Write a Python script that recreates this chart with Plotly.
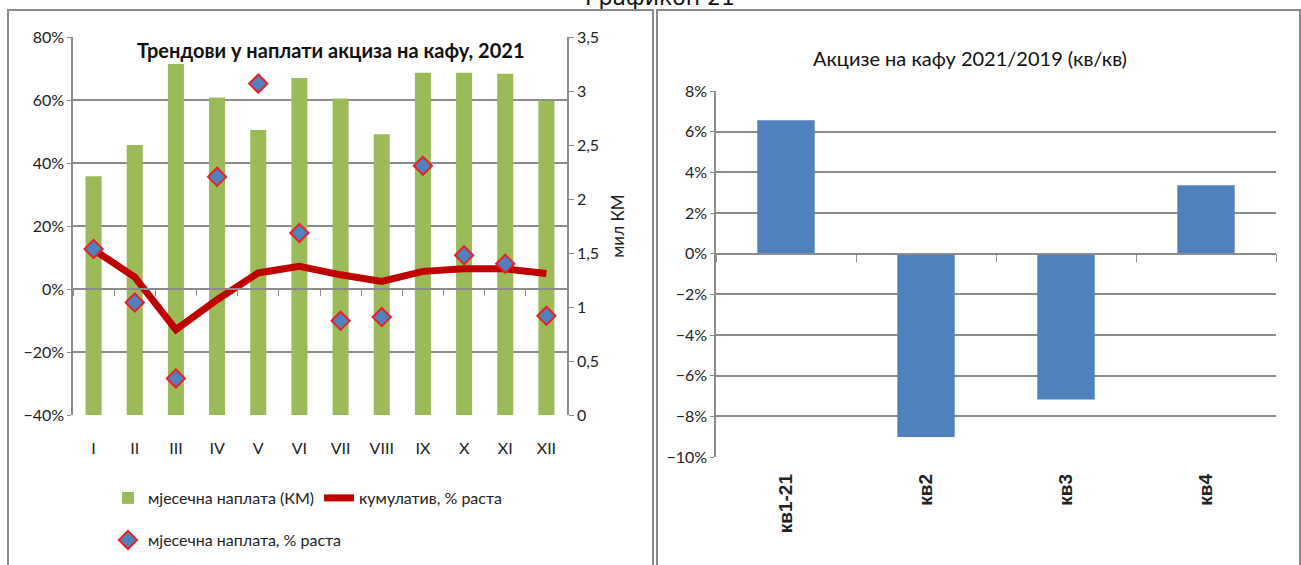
import plotly.graph_objects as go

# ---------------- data ----------------
months = ["I", "II", "III", "IV", "V", "VI", "VII", "VIII", "IX", "X", "XI", "XII"]
monthly_km = [2.21, 2.50, 3.25, 2.94, 2.64, 3.12, 2.93, 2.60, 3.17, 3.17, 3.16, 2.91]
monthly_growth = [0.127, -0.043, -0.284, 0.356, 0.652, 0.178, -0.101, -0.089, 0.391, 0.107, 0.080, -0.085]
cumulative_growth = [0.125, 0.038, -0.129, -0.034, 0.051, 0.072, 0.045, 0.024, 0.056, 0.064, 0.064, 0.049]

quarters = ["кв1-21", "кв2", "кв3", "кв4"]
quarter_growth = [0.0656, -0.0902, -0.0717, 0.0336]

left_title = "Трендови у наплати акциза на кафу, 2021"
right_title = "Акцизе на кафу 2021/2019 (кв/кв)"
page_title = "Графикон 21"

# ---------------- layout geometry ----------------
W, H = 1301, 565
FONT = "Lato, sans-serif"
GRID = "#8c8c8c"

def px_x(v):
    return v / W

def px_y(v):
    return 1 - v / H

L_dom_x = [px_x(73), px_x(567)]
L_dom_y = [px_y(415), px_y(37)]
R_dom_x = [px_x(716), px_x(1276)]
R_dom_y = [px_y(457), px_y(91)]

L_pct_range = [-0.4, 0.8]
R_pct_range = [-0.10, 0.08]

def zero_pos(dom, rng):
    return dom[0] + (0 - rng[0]) / (rng[1] - rng[0]) * (dom[1] - dom[0])

fig = go.Figure()

fig.add_trace(go.Bar(
    x=months, y=monthly_km, name="мјесечна наплата (КМ)",
    marker=dict(color="#9BBB59", line=dict(width=0)), width=0.39,
    xaxis="x", yaxis="y", legend="legend",
))
fig.add_trace(go.Scatter(
    x=months, y=cumulative_growth, name="кумулатив, % раста", mode="lines",
    line=dict(color="#C00000", width=7), xaxis="x", yaxis="y3", legend="legend",
))
fig.add_trace(go.Scatter(
    x=months, y=monthly_growth, name="мјесечна наплата, % раста", mode="markers",
    marker=dict(symbol="diamond", size=14, color="#4F81BD",
                line=dict(color="#E8202A", width=2)),
    xaxis="x", yaxis="y3", legend="legend2",
))
fig.add_trace(go.Bar(
    x=quarters, y=quarter_growth, name="кв/кв", showlegend=False,
    marker=dict(color="#4F81BD", line=dict(width=0)), width=0.41,
    xaxis="x2", yaxis="y4",
))

axis_common = dict(linecolor=GRID, linewidth=1.5, tickcolor=GRID, automargin=False,
                   tickfont=dict(family=FONT, size=16, color="#222"))

fig.update_layout(
    template="none",
    width=W, height=H,
    margin=dict(l=0, r=0, t=0, b=0, autoexpand=False),
    paper_bgcolor="white", plot_bgcolor="white",
    separators=", ",
    showlegend=True,
    xaxis=dict(domain=L_dom_x, type="category", anchor="free",
               position=zero_pos(L_dom_y, L_pct_range),
               range=[-0.5, 11.5], showline=True, ticks="outside",
               tickson="boundaries", ticklen=6, showgrid=False,
               ticklabelstandoff=145, **axis_common),
    yaxis=dict(domain=L_dom_y, anchor="x", side="right", range=[0, 3.5],
               dtick=0.5, showgrid=False, zeroline=False, showline=True,
               ticks="outside", ticklen=5,
               title=dict(text="мил КМ", standoff=14,
                          font=dict(family=FONT, size=17, color="#222")),
               **axis_common),
    yaxis3=dict(overlaying="y", anchor="x", side="left", range=L_pct_range,
                dtick=0.2, tickformat=".0%", showgrid=True, gridcolor=GRID,
                gridwidth=1.5, zeroline=False, showline=True, ticks="outside",
                ticklen=4, **axis_common),
    xaxis2=dict(domain=R_dom_x, type="category", anchor="free",
                position=zero_pos(R_dom_y, R_pct_range),
                range=[-0.5, 3.5], showline=True, ticks="outside",
                tickson="boundaries", ticklen=8, showgrid=False,
                tickangle=-90, ticklabelstandoff=212, automargin=False,
                linecolor=GRID, linewidth=1.5, tickcolor=GRID,
                tickfont=dict(family="Liberation Sans, Arial, sans-serif",
                              size=19, color="#222", weight="bold")),
    yaxis4=dict(domain=R_dom_y, anchor="x2", range=R_pct_range, dtick=0.02,
                tickformat=".0%", showgrid=True, gridcolor=GRID, gridwidth=1.5,
                zeroline=False, showline=True, ticks="outside", ticklen=4,
                **axis_common),
    legend=dict(orientation="h", x=px_x(108), y=px_y(481), xanchor="left",
                yanchor="top", font=dict(family=FONT, size=16, color="#222"),
                bgcolor="rgba(0,0,0,0)", itemwidth=30),
    legend2=dict(orientation="h", x=px_x(108), y=px_y(523), xanchor="left",
                 yanchor="top", font=dict(family=FONT, size=16, color="#222"),
                 bgcolor="rgba(0,0,0,0)", itemwidth=30),
    annotations=[
        dict(text="<b>" + left_title + "</b>", x=px_x(331), y=px_y(50),
             xref="paper", yref="paper", showarrow=False, xanchor="center",
             yanchor="middle", font=dict(family=FONT, size=20, color="#111")),
        dict(text=right_title, x=px_x(970), y=px_y(58), xref="paper",
             yref="paper", showarrow=False, xanchor="center", yanchor="middle",
             font=dict(family=FONT, size=20, color="#111")),
        dict(text=page_title, x=px_x(660), y=px_y(12), xref="paper",
             yref="paper", showarrow=False, xanchor="center", yanchor="bottom",
             font=dict(family="DejaVu Sans, sans-serif", size=22, color="#111")),
    ],
    shapes=[
        dict(type="rect", xref="paper", yref="paper", x0=px_x(8), x1=px_x(653),
             y0=-0.05, y1=px_y(10), line=dict(color="#8a8a8a", width=2)),
        dict(type="rect", xref="paper", yref="paper", x0=px_x(657), x1=px_x(1300),
             y0=-0.05, y1=px_y(10), line=dict(color="#8a8a8a", width=2)),
    ],
)

fig.write_html("out.html", config={"displayModeBar": False},
               post_script="document.body.style.margin='0';document.body.style.overflow='hidden';")
